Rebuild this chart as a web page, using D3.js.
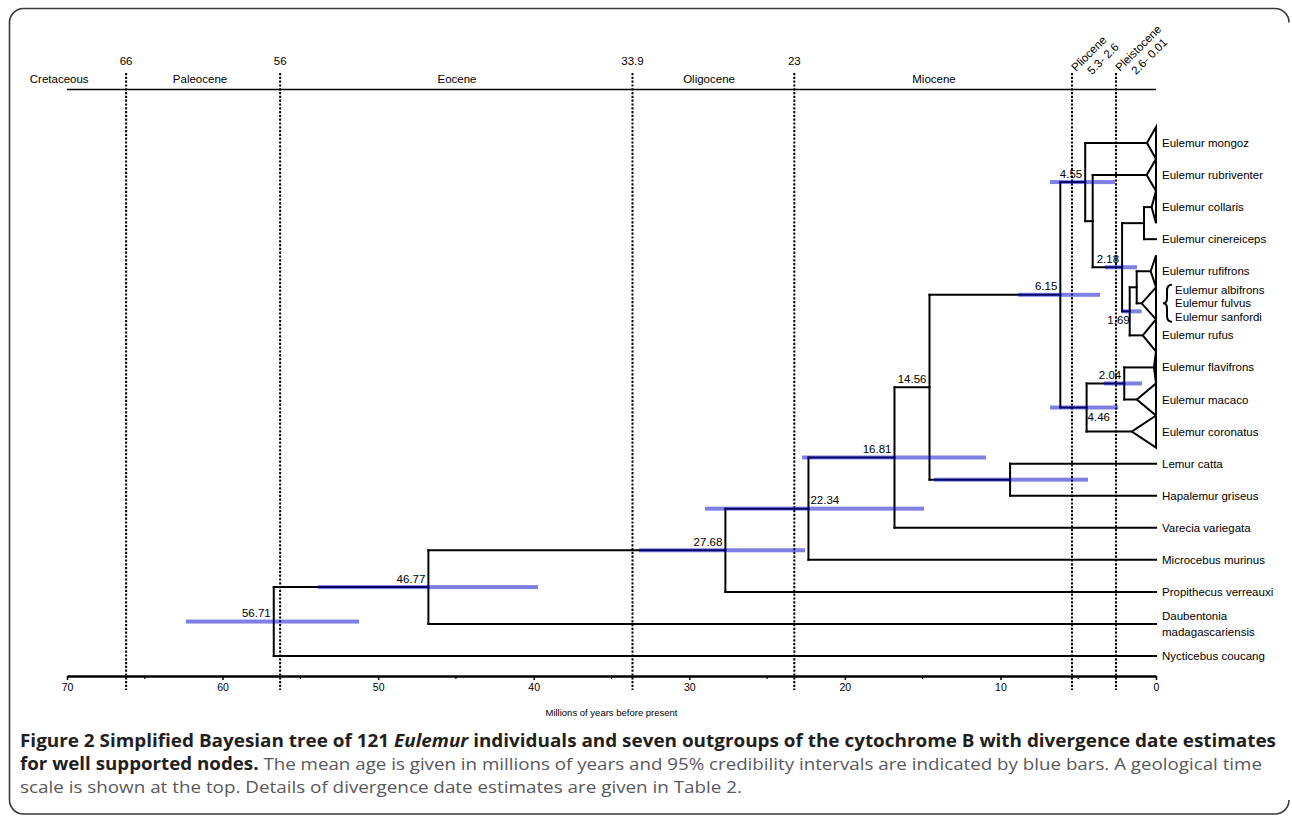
<!DOCTYPE html>
<html><head><meta charset="utf-8">
<script src="https://cdn.jsdelivr.net/npm/d3@7"></script>
<style>
body{margin:0;background:#fff;}
svg{display:block;}
.chart text{font-family:"Liberation Sans", Arial, Helvetica, sans-serif;fill:#000;}
.cap text{font-family:"Open Sans","Noto Sans",sans-serif;}
</style></head><body>
<svg id="chart" width="1292" height="816"></svg>
<script>
// ---------- DATA ----------
const leafNames = ["Eulemur mongoz","Eulemur rubriventer","Eulemur collaris","Eulemur cinereiceps","Eulemur rufifrons",
  "Eulemur albifrons|Eulemur fulvus|Eulemur sanfordi","Eulemur rufus","Eulemur flavifrons","Eulemur macaco","Eulemur coronatus",
  "Lemur catta","Hapalemur griseus","Varecia variegata","Microcebus murinus","Propithecus verreauxi",
  "Daubentonia|madagascariensis","Nycticebus coucang"];
const bracedLeaves = ["Eulemur albifrons|Eulemur fulvus|Eulemur sanfordi"];
const leafParents = ["n8","n9","n11","n11","n13","n13","n12","n15","n15","n14","n16","n16","n5","n4","n3","n2","n1"];
const cladeCrownAges = [0.58,0.6,0.28,0,0.34,0.92,0.85,0.13,1.23,1.56,0,0,0,0,0,0,0];

const nodeIds     = ["n1","n2","n3","n4","n5","n6","n7","n8","n9","n10","n11","n12","n13","n14","n15","n16"];
const nodeParents = [null,"n1","n2","n3","n4","n5","n6","n7","n8","n9","n10","n10","n12","n7","n14","n6"];
const nodeAges    = [56.71,46.77,27.68,22.34,16.81,14.56,6.15,4.55,4.07,2.18,0.77,1.69,1.24,4.46,2.04,9.38];
const nodeLabels  = ["56.71","46.77","27.68","22.34","16.81","14.56","6.15","4.55",null,"2.18",null,"1.69",null,"4.46","2.04",null];
const ciOld       = [62.35,53.87,33.23,28.99,22.75,null,8.87,6.81,null,3.28,null,2.20,null,6.81,3.34,14.27];
const ciYoung     = [51.23,39.72,22.56,14.91,10.93,null,3.60,2.64,null,1.22,null,0.92,null,2.44,0.90,4.37];

const boundaryAges   = [66.2,56.3,33.65,23.25,5.4,2.57];
const boundaryLabels = ["66","56","33.9","23",null,null];
const epochNames     = ["Cretaceous","Paleocene","Eocene","Oligocene","Miocene"];
const epochCenters   = [70.5,61.45,44.93,28.73,14.27];
const rotatedEpochs  = [["Pliocene","5.3- 2.6"],["Pleistocene","2.6- 0.01"]];
const majorTicks = [70,60,50,40,30,20,10,0];
const minorTicks = [65,55,45,35,25,15,5];
const axisTitle = "Millions of years before present";

// label placement style (not data)
const labelPlace = {n4:"right", n12:"below", n14:"belowRight"};

// ---------- SETUP ----------
const svg = d3.select("#chart");
const g = svg.append("g").attr("class","chart");
const x = d3.scaleLinear().domain([70,0]).range([67,1156]);
const FS = 11.5;

// frame
(function(){
  const L=9.5,T=8.5,R=1289,B=814,r=14;
  svg.append("path").attr("fill","none").attr("stroke","#3a3a3a").attr("stroke-width",1.6)
    .attr("d",`M${R},${T+r}A${r},${r} 0 0 0 ${R-r},${T}L${L+r},${T}A${r},${r} 0 0 0 ${L},${T+r}L${L},${B-r}A${r},${r} 0 0 0 ${L+r},${B}L${R-r},${B}A${r},${r} 0 0 0 ${R},${B-r}`);
})();

// hierarchy
const rows = [];
nodeIds.forEach((id,i)=>rows.push({id, parent:nodeParents[i], age:nodeAges[i], label:nodeLabels[i], lo:ciOld[i], hi:ciYoung[i], key:id}));
leafNames.forEach((nm,i)=>rows.push({id:"L"+i, parent:leafParents[i], age:0, crown:cladeCrownAges[i], name:nm, leafIndex:i}));
const root = d3.stratify().id(d=>d.id).parentId(d=>d.parent)(rows);
root.eachAfter(n=>{ n.minLeaf = n.children ? d3.min(n.children,c=>c.minLeaf) : n.data.leafIndex; });
root.sort((a,b)=>a.minLeaf-b.minLeaf);
d3.cluster().nodeSize([1,1]).separation(()=>1)(root);
const y = d3.scaleLinear().domain(d3.extent(root.leaves(),n=>n.x)).range([143,656]);

// top geological scale
g.append("line").attr("x1",x(70)).attr("x2",x(0)).attr("y1",89.5).attr("y2",89.5).attr("stroke","#000").attr("stroke-width",1.5);
g.selectAll(".bnd").data(boundaryAges).join("line").attr("class","bnd")
  .attr("x1",d=>x(d)).attr("x2",d=>x(d)).attr("y1",73).attr("y2",690)
  .attr("stroke","#000").attr("stroke-width",2).attr("stroke-dasharray","2.2,1.6");
g.selectAll(".bndl").data(boundaryAges.map((a,i)=>({a,l:boundaryLabels[i]})).filter(d=>d.l)).join("text")
  .attr("x",d=>x(d.a)).attr("y",65).attr("text-anchor","middle").attr("font-size",FS).text(d=>d.l);
g.selectAll(".ep").data(epochNames).join("text")
  .attr("x",(d,i)=>x(epochCenters[i])).attr("y",83).attr("text-anchor","middle").attr("font-size",FS).text(d=>d);
rotatedEpochs.forEach((lines,i)=>{
  const a = boundaryAges[4+i];
  const t = g.append("text").attr("font-size",11.5)
    .attr("transform",`translate(${x(a)+4},72) rotate(-45)`);
  t.append("tspan").attr("x",0).attr("y",0).text(lines[0]);
  t.append("tspan").attr("x",9).attr("y",13.5).text(lines[1]);
});

// branches
const ageX = n => n.children ? x(n.data.age) : x(n.data.crown||0);
const br = g.append("g").attr("fill","none").attr("stroke","#000").attr("stroke-width",2).attr("stroke-linecap","square");
root.descendants().forEach(n=>{
  if(n.parent){
    br.append("line").attr("x1",x(n.parent.data.age)).attr("x2",ageX(n)).attr("y1",y(n.x)).attr("y2",y(n.x));
  }
  if(n.children){
    br.append("line").attr("x1",x(n.data.age)).attr("x2",x(n.data.age))
      .attr("y1",y(d3.min(n.children,c=>c.x))).attr("y2",y(d3.max(n.children,c=>c.x)));
  }
});
// collapsed clade triangles
const step = y(root.leaves()[1].x)-y(root.leaves()[0].x);
const half = step*0.5;
g.selectAll(".tri").data(root.leaves().filter(n=>n.data.crown>0)).join("path")
  .attr("fill","#fff").attr("stroke","#000").attr("stroke-width",2).attr("stroke-linejoin","miter")
  .attr("d",n=>`M${x(n.data.crown)},${y(n.x)}L${x(0)},${y(n.x)-half}L${x(0)},${y(n.x)+half}Z`);

// credibility bars
const bars = root.descendants().filter(n=>n.children && n.data.lo!=null);
g.selectAll(".ci").data(bars).join("rect")
  .attr("x",n=>x(n.data.lo)).attr("width",n=>x(n.data.hi)-x(n.data.lo))
  .attr("y",n=>y(n.x)-2).attr("height",4)
  .attr("fill","rgb(0,0,204)").attr("fill-opacity",0.5);

// node labels
root.descendants().filter(n=>n.children && n.data.label).forEach(n=>{
  const p = labelPlace[n.data.key]||"left";
  const nx = x(n.data.age), ny = y(n.x);
  const t = g.append("text").attr("font-size",FS).text(n.data.label);
  if(p==="left") t.attr("x",nx-3).attr("y",ny-4.5).attr("text-anchor","end");
  else if(p==="right") t.attr("x",nx+2).attr("y",ny-4.5).attr("text-anchor","start");
  else if(p==="below") t.attr("x",nx).attr("y",ny+13).attr("text-anchor","end");
  else t.attr("x",nx+1).attr("y",ny+13).attr("text-anchor","start");
});

// leaf labels
root.leaves().forEach(n=>{
  const ly = y(n.x), lines = n.data.name.split("|");
  if(bracedLeaves.includes(n.data.name)){
    const bx = x(0)+7, top = ly-18.5, bot = ly+18.5;
    g.append("path").attr("fill","none").attr("stroke","#000").attr("stroke-width",2)
      .attr("d",`M${bx+9},${top}Q${bx+4},${top} ${bx+4},${top+6}L${bx+4},${ly-5}Q${bx+4},${ly} ${bx},${ly}Q${bx+4},${ly} ${bx+4},${ly+5}L${bx+4},${bot-6}Q${bx+4},${bot} ${bx+9},${bot}`);
    lines.forEach((l,i)=>g.append("text").attr("font-size",FS).attr("x",x(0)+19).attr("y",ly+(i-1)*13.5).attr("dy","0.35em").text(l));
  } else {
    const off = (lines.length-1)*8;
    lines.forEach((l,i)=>g.append("text").attr("font-size",FS).attr("x",x(0)+6).attr("y",ly-off+i*16).attr("dy","0.35em").text(l));
  }
});

// bottom axis
const ax = g.append("g").attr("transform","translate(0,676)")
  .call(d3.axisBottom(x).tickValues(majorTicks).tickFormat(d3.format("d")).tickSize(4).tickSizeOuter(0).tickPadding(3.5));
ax.select(".domain").attr("stroke","#000").attr("stroke-width",2.5);
ax.selectAll(".tick line").attr("stroke","#000").attr("stroke-width",1.5);
ax.selectAll(".tick text").attr("font-size",10.5).attr("font-family","Liberation Sans, Arial, sans-serif").attr("fill","#000");
ax.selectAll(".minor").data(minorTicks).join("line").attr("class","minor")
  .attr("x1",d=>x(d)).attr("x2",d=>x(d)).attr("y1",0).attr("y2",3).attr("stroke","#000").attr("stroke-width",1.2);
g.append("text").attr("x",x(35)).attr("y",716).attr("text-anchor","middle").attr("font-size",9.5).text(axisTitle);

// caption
const cap = svg.append("g").attr("class","cap");
const capLines = [
  {y:747, len:1256, parts:[["Figure 2 Simplified Bayesian tree of 121 ","b"],["Eulemur","bi"],[" individuals and seven outgroups of the cytochrome B with divergence date estimates","b"]]},
  {y:770, len:1242, parts:[["for well supported nodes.","b"],[" The mean age is given in millions of years and 95% credibility intervals are indicated by blue bars. A geological time","n"]]},
  {y:793, len:722, parts:[["scale is shown at the top. Details of divergence date estimates are given in Table 2.","n"]]}
];
capLines.forEach(L=>{
  const t = cap.append("text").attr("x",20).attr("y",L.y).attr("font-size",17)
    .attr("textLength",L.len).attr("lengthAdjust","spacingAndGlyphs");
  L.parts.forEach(([s,st])=>{
    const ts = t.append("tspan").text(s);
    if(st[0]==="b") ts.attr("font-weight","bold").attr("fill","#231f20");
    else ts.attr("fill","#58595b");
    if(st==="bi") ts.attr("font-style","italic");
  });
});
</script>
</body></html>
